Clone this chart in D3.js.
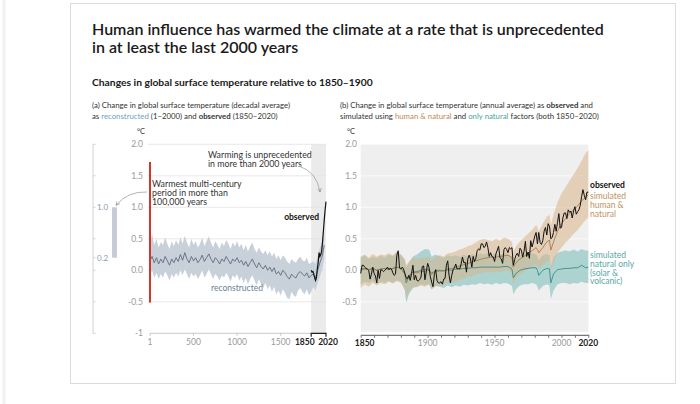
<!DOCTYPE html>
<html>
<head>
<meta charset="utf-8">
<script src="https://cdn.jsdelivr.net/npm/d3@7"></script>
<style>
body { margin: 0; background: #fff; }
svg { font-family: Lato, "Open Sans", sans-serif; }
</style>
</head>
<body>
<svg id="chart" width="700" height="404"></svg>
<script>
// ---- data -------------------------------------------------------------

var yTicks = [2.0, 1.5, 1.0, 0.5, 0.0, -0.5, -1];
var yTicksB = [2.0, 1.5, 1.0, 0.5, 0.0, -0.5];
var xTicksA = [1, 500, 1000, 1500];
var xTicksB = [1900, 1950, 2000];

// (a) reconstructed, every 25 years from year 1 to 2000
var reconYears = d3.range(0, 2001, 25).map(y => Math.max(1, y));
var reconMean = [
    0.15, 0.22, 0.12, 0.20, 0.10, 0.18, 0.12, 0.22, 0.15, 0.08,
    0.18, 0.12, 0.20, 0.14, 0.25, 0.16, 0.28, 0.18, 0.12, 0.22,
    0.15, 0.20, 0.12, 0.17, 0.24, 0.14, 0.20, 0.26, 0.18, 0.12,
    0.20, 0.16, 0.10, 0.18, 0.14, 0.22, 0.16, 0.10, 0.18, 0.14,
    0.20, 0.12, 0.16, 0.08, 0.14, 0.06, 0.12, 0.18, 0.10, 0.04,
    0.12, 0.06, 0.02, 0.08, 0.00, 0.05, -0.02, 0.04, -0.06, -0.02,
    -0.08, 0.00, -0.04, -0.10, -0.14, -0.06, -0.10, -0.12, -0.05, -0.02,
    -0.06, -0.09, -0.04, -0.12, -0.08, -0.06, -0.12, 0.00, 0.12, 0.22,
    0.40
];
var reconHigh = [
    0.42, 0.58, 0.40, 0.50, 0.36, 0.45, 0.40, 0.52, 0.42, 0.34,
    0.46, 0.38, 0.48, 0.40, 0.52, 0.42, 0.55, 0.44, 0.36, 0.50,
    0.40, 0.46, 0.36, 0.42, 0.52, 0.38, 0.46, 0.54, 0.44, 0.36,
    0.46, 0.40, 0.34, 0.44, 0.38, 0.48, 0.42, 0.34, 0.44, 0.38,
    0.46, 0.36, 0.42, 0.32, 0.40, 0.30, 0.38, 0.44, 0.34, 0.28,
    0.36, 0.30, 0.26, 0.32, 0.24, 0.30, 0.22, 0.28, 0.18, 0.24,
    0.16, 0.24, 0.20, 0.14, 0.10, 0.18, 0.14, 0.12, 0.18, 0.22,
    0.16, 0.14, 0.20, 0.10, 0.12, 0.14, 0.10, 0.22, 0.36, 0.44,
    0.62
];
var reconLow = [
    -0.08, 0.00, -0.12, -0.04, -0.14, -0.06, -0.12, -0.02, -0.08, -0.16,
    -0.06, -0.12, -0.04, -0.10, 0.00, -0.08, 0.02, -0.06, -0.14, -0.04,
    -0.10, -0.06, -0.14, -0.08, 0.00, -0.12, -0.06, 0.02, -0.06, -0.14,
    -0.06, -0.10, -0.16, -0.08, -0.12, -0.04, -0.10, -0.18, -0.08, -0.12,
    -0.06, -0.16, -0.10, -0.20, -0.12, -0.22, -0.14, -0.08, -0.16, -0.24,
    -0.14, -0.22, -0.28, -0.20, -0.30, -0.24, -0.34, -0.26, -0.38, -0.32,
    -0.40, -0.30, -0.36, -0.44, -0.46, -0.34, -0.40, -0.42, -0.32, -0.28,
    -0.34, -0.38, -0.30, -0.40, -0.34, -0.26, -0.32, -0.20, -0.10, 0.00,
    0.18
];

// (a) observed, decadal
var obsDecYears = [1850, 1860, 1870, 1880, 1890, 1900, 1910, 1920, 1930, 1940,
    1950, 1960, 1970, 1980, 1990, 2000, 2010, 2020];
var obsDecadal = [0.00, -0.03, -0.02, -0.06, -0.12, -0.16, -0.12, 0.02, 0.12, 0.28,
    0.22, 0.25, 0.30, 0.45, 0.62, 0.80, 0.96, 1.09];

// warmest multi-century period (inset bar) and the red range line
var warmestRange = [0.2, 1.0];
var redRange = [-0.51, 1.72];

// (b) observed, annual 1850-2020
var obsYears = d3.range(1850, 2021);
var obsAnnual = [
    -0.05, 0.08, 0.08, 0.05, 0.03, 0.02, 0.00, -0.14, -0.06, 0.05,
    -0.05, -0.09, -0.20, 0.00, -0.13, 0.01, 0.00, -0.02, 0.00, 0.02,
    0.05, 0.01, 0.03, 0.02, -0.04, -0.08, -0.06, 0.24, 0.31, 0.04,
    0.02, 0.05, 0.02, -0.05, -0.12, -0.13, -0.08, -0.16, -0.05, 0.08,
    -0.15, -0.08, -0.16, -0.17, -0.15, -0.11, 0.06, 0.07, -0.15, -0.02,
    0.11, 0.05, -0.10, -0.19, -0.26, -0.07, 0.01, -0.16, -0.20, -0.20,
    -0.18, -0.22, -0.14, -0.13, 0.08, 0.15, -0.08, -0.20, -0.08, 0.01,
    0.04, 0.10, 0.02, 0.03, 0.02, 0.10, 0.21, 0.12, 0.13, -0.03,
    0.18, 0.24, 0.18, 0.05, 0.22, 0.14, 0.19, 0.31, 0.34, 0.32,
    0.42, 0.42, 0.36, 0.38, 0.45, 0.36, 0.22, 0.28, 0.22, 0.21,
    0.14, 0.26, 0.32, 0.38, 0.20, 0.18, 0.11, 0.33, 0.36, 0.33,
    0.28, 0.36, 0.34, 0.36, 0.08, 0.17, 0.24, 0.27, 0.22, 0.35,
    0.32, 0.21, 0.30, 0.46, 0.22, 0.29, 0.19, 0.47, 0.37, 0.45,
    0.54, 0.60, 0.42, 0.60, 0.44, 0.41, 0.47, 0.62, 0.68, 0.56,
    0.74, 0.70, 0.50, 0.52, 0.60, 0.73, 0.62, 0.76, 0.90, 0.67,
    0.68, 0.83, 0.91, 0.91, 0.82, 0.96, 0.92, 0.94, 0.83, 0.94,
    1.01, 0.89, 0.93, 0.96, 1.03, 1.17, 1.28, 1.19, 1.12, 1.24,
    1.24
];

// (b) simulated runs
var simYears = [1850, 1853, 1856, 1859, 1862, 1865, 1868, 1871, 1874, 1877,
    1880, 1883, 1884, 1886, 1889, 1892, 1895, 1898, 1901, 1902,
    1903, 1906, 1909, 1912, 1915, 1918, 1921, 1924, 1927, 1930,
    1933, 1936, 1939, 1942, 1945, 1948, 1951, 1954, 1957, 1960,
    1963, 1964, 1966, 1969, 1972, 1975, 1978, 1981, 1982, 1983,
    1986, 1989, 1991, 1992, 1994, 1997, 2000, 2003, 2006, 2009,
    2012, 2015, 2018, 2020];
var hnMean = [0.00, 0.02, 0.01, 0.03, 0.00, 0.02, 0.03, 0.02, 0.03, 0.05,
    0.03, -0.05, -0.15, -0.08, -0.03, -0.04, -0.02, -0.02, 0.00, -0.03,
    -0.06, -0.02, -0.01, -0.01, 0.02, 0.03, 0.05, 0.07, 0.09, 0.11,
    0.13, 0.15, 0.17, 0.19, 0.20, 0.21, 0.21, 0.22, 0.23, 0.24,
    0.20, 0.05, 0.12, 0.18, 0.22, 0.27, 0.31, 0.36, 0.33, 0.28,
    0.36, 0.45, 0.48, 0.32, 0.45, 0.62, 0.74, 0.82, 0.90, 0.96,
    1.02, 1.10, 1.16, 1.20];
var hnLow = [-0.28, -0.22, -0.26, -0.20, -0.24, -0.20, -0.22, -0.18, -0.21, -0.17,
    -0.20, -0.30, -0.45, -0.33, -0.26, -0.27, -0.24, -0.26, -0.22, -0.26,
    -0.30, -0.25, -0.24, -0.23, -0.20, -0.20, -0.18, -0.15, -0.14, -0.10,
    -0.10, -0.06, -0.05, -0.04, -0.02, -0.04, -0.02, -0.03, -0.01, 0.00,
    -0.05, -0.22, -0.12, -0.06, -0.02, 0.02, 0.06, 0.10, 0.06, 0.02,
    0.08, 0.14, 0.16, 0.00, 0.12, 0.28, 0.36, 0.44, 0.50, 0.58,
    0.64, 0.72, 0.80, 0.84];
var hnHigh = [0.22, 0.25, 0.20, 0.26, 0.22, 0.25, 0.24, 0.27, 0.24, 0.30,
    0.26, 0.18, 0.08, 0.14, 0.20, 0.18, 0.20, 0.19, 0.22, 0.18,
    0.15, 0.22, 0.24, 0.22, 0.27, 0.28, 0.30, 0.33, 0.35, 0.38,
    0.40, 0.44, 0.48, 0.50, 0.48, 0.46, 0.50, 0.47, 0.52, 0.50,
    0.45, 0.30, 0.38, 0.46, 0.52, 0.58, 0.64, 0.72, 0.68, 0.62,
    0.74, 0.85, 0.88, 0.72, 0.88, 1.08, 1.22, 1.32, 1.42, 1.52,
    1.62, 1.74, 1.86, 1.90];
var natMean = [0.02, 0.03, 0.01, 0.03, 0.00, 0.02, 0.03, 0.02, 0.03, 0.05,
    0.03, -0.06, -0.20, -0.10, -0.03, -0.02, 0.00, 0.01, 0.02, -0.02,
    -0.05, 0.00, 0.00, -0.01, 0.01, 0.00, 0.02, 0.02, 0.03, 0.03,
    0.04, 0.04, 0.05, 0.05, 0.05, 0.05, 0.05, 0.05, 0.06, 0.06,
    0.02, -0.12, -0.05, 0.00, 0.02, 0.03, 0.04, 0.04, 0.00, -0.08,
    0.00, 0.03, 0.02, -0.20, -0.06, 0.01, 0.02, 0.03, 0.03, 0.04,
    0.04, 0.08, 0.04, 0.05];
var natLow = [-0.22, -0.18, -0.20, -0.17, -0.22, -0.18, -0.20, -0.17, -0.20, -0.16,
    -0.18, -0.32, -0.52, -0.38, -0.28, -0.26, -0.22, -0.24, -0.22, -0.26,
    -0.30, -0.25, -0.26, -0.28, -0.24, -0.27, -0.24, -0.26, -0.23, -0.24,
    -0.22, -0.23, -0.20, -0.22, -0.21, -0.23, -0.20, -0.22, -0.20, -0.21,
    -0.25, -0.38, -0.30, -0.24, -0.22, -0.22, -0.20, -0.22, -0.26, -0.32,
    -0.25, -0.22, -0.24, -0.46, -0.32, -0.22, -0.20, -0.20, -0.22, -0.20,
    -0.21, -0.18, -0.20, -0.20];
var natHigh = [0.20, 0.24, 0.18, 0.22, 0.19, 0.23, 0.20, 0.25, 0.22, 0.28,
    0.24, 0.16, 0.05, 0.12, 0.22, 0.25, 0.30, 0.34, 0.33, 0.28,
    0.22, 0.25, 0.22, 0.20, 0.24, 0.22, 0.24, 0.21, 0.25, 0.22,
    0.26, 0.24, 0.27, 0.25, 0.28, 0.25, 0.27, 0.24, 0.28, 0.26,
    0.22, 0.10, 0.18, 0.24, 0.26, 0.25, 0.27, 0.26, 0.22, 0.16,
    0.24, 0.26, 0.24, 0.05, 0.20, 0.28, 0.30, 0.32, 0.30, 0.33,
    0.30, 0.34, 0.31, 0.32];

// ---- layout -----------------------------------------------------------

var ctx = {
    top: 144.3,
    bottom: 333.3,
    aLeft: 150, aRight: 326,
    bLeft: 360.7, bRight: 588.3,
    insetX: 93,
    grey: "#9a9a9a",
    text: "#333"
};

var svgEl = d3.select("#chart");

var yA = d3.scaleLinear().domain([-1, 2]).range([ctx.bottom, ctx.top]);
var xA = d3.scaleLinear().domain([1, 2020]).range([ctx.aLeft, ctx.aRight]);
var xB = d3.scaleLinear().domain([1850, 2020]).range([ctx.bLeft, ctx.bRight]);
var yB = yA;

// frame
svgEl.append("rect")
    .attr("x", 70.5).attr("y", 3.5)
    .attr("width", 605).attr("height", 380)
    .attr("fill", "none")
    .attr("stroke", "#dcdcdc");
svgEl.append("line")
    .attr("x1", 4).attr("x2", 4).attr("y1", 0).attr("y2", 404)
    .attr("stroke", "#f1f1f1").attr("stroke-width", 3);

// titles
var title = svgEl.append("text")
    .attr("x", 92).attr("y", 35)
    .attr("font-size", "16px")
    .attr("font-weight", 600)
    .attr("fill", "#1a1a1a");
title.append("tspan").attr("x", 92).text("Human influence has warmed the climate at a rate that is unprecedented");
title.append("tspan").attr("x", 92).attr("dy", 17.5).text("in at least the last 2000 years");

svgEl.append("text")
    .attr("x", 92).attr("y", 86)
    .attr("font-size", "10.3px")
    .attr("font-weight", 700)
    .attr("fill", "#1a1a1a")
    .text("Changes in global surface temperature relative to 1850\u20131900");

// captions, with coloured words
var caption = function(x, y, parts) {
    var t = svgEl.append("text")
        .attr("x", x).attr("y", y)
        .attr("font-size", "7.8px")
        .attr("fill", ctx.text);
    parts.forEach(function(p) {
        t.append("tspan")
            .attr("fill", p.c || ctx.text)
            .attr("font-weight", p.b ? 700 : 400)
            .text(p.t);
    });
};
caption(92, 108, [{ t: "(a) Change in global surface temperature (decadal average)" }]);
caption(92, 118.5, [{ t: "as " }, { t: "reconstructed", c: "#6f9dc4" }, { t: " (1\u20132000) and " },
    { t: "observed", b: true }, { t: " (1850\u20132020)" }]);
caption(340, 108, [{ t: "(b) Change in global surface temperature (annual average) as " },
    { t: "observed", b: true }, { t: " and" }]);
caption(340, 118.5, [{ t: "simulated using " }, { t: "human & natural", c: "#c28a55" }, { t: " and " },
    { t: "only natural", c: "#4aa3a0" }, { t: " factors (both 1850\u20132020)" }]);

svgEl.append("text").attr("x", 137).attr("y", 134).attr("font-size", "7.5px").attr("fill", ctx.text).text("\u00b0C");
svgEl.append("text").attr("x", 347).attr("y", 134).attr("font-size", "7.5px").attr("fill", ctx.text).text("\u00b0C");

// ---- panel (a) --------------------------------------------------------

// grey column for the observed period
svgEl.append("rect")
    .attr("x", xA(1850)).attr("y", ctx.top)
    .attr("width", xA(2020) - xA(1850)).attr("height", ctx.bottom - ctx.top)
    .attr("fill", "#ebebeb");

var gA = svgEl.append("g");
yTicks.filter(d => d > -1).forEach(function(v) {
    gA.append("line")
        .attr("x1", ctx.aLeft - 2).attr("x2", ctx.aRight)
        .attr("y1", yA(v)).attr("y2", yA(v))
        .attr("stroke", "#e2e2e2").attr("stroke-width", 0.8);
});
yTicks.forEach(function(v) {
    gA.append("text")
        .attr("x", 143).attr("y", yA(v) + 3)
        .attr("text-anchor", "end")
        .attr("font-size", "8.5px")
        .attr("fill", ctx.grey)
        .text(v === -1 ? "-1" : d3.format(".1f")(v).replace("\u2212", "-"));
});

var recon = reconYears.map((y, i) => ({ x: y, m: reconMean[i], lo: reconLow[i], hi: reconHigh[i] }));
gA.append("path")
    .datum(recon)
    .attr("fill", "#c8d0da")
    .attr("d", d3.area().x(d => xA(d.x)).y0(d => yA(d.lo)).y1(d => yA(d.hi)));
gA.append("path")
    .datum(recon)
    .attr("fill", "none")
    .attr("stroke", "#5f6c7e")
    .attr("stroke-width", 0.9)
    .attr("d", d3.line().x(d => xA(d.x)).y(d => yA(d.m)));

gA.append("path")
    .datum(obsDecYears.map((y, i) => [y, obsDecadal[i]]))
    .attr("fill", "none")
    .attr("stroke", "#111")
    .attr("stroke-width", 1.2)
    .attr("d", d3.line().x(d => xA(d[0])).y(d => yA(d[1])));

// red line at year 1
gA.append("line")
    .attr("x1", xA(1)).attr("x2", xA(1))
    .attr("y1", yA(redRange[1])).attr("y2", yA(redRange[0]))
    .attr("stroke", "#d8342b").attr("stroke-width", 2);

// x axis
gA.append("line")
    .attr("x1", ctx.aLeft).attr("x2", ctx.aRight)
    .attr("y1", ctx.bottom).attr("y2", ctx.bottom)
    .attr("stroke", "#bbb").attr("stroke-width", 0.8);
xTicksA.forEach(function(v) {
    gA.append("line")
        .attr("x1", xA(v)).attr("x2", xA(v))
        .attr("y1", ctx.bottom).attr("y2", ctx.bottom + 2.5)
        .attr("stroke", "#bbb").attr("stroke-width", 0.8);
    gA.append("text")
        .attr("x", xA(v)).attr("y", ctx.bottom + 12)
        .attr("text-anchor", "middle")
        .attr("font-size", "8.5px")
        .attr("fill", ctx.grey)
        .text(v);
});
gA.append("path")
    .attr("d", "M" + xA(1850) + "," + (ctx.bottom + 3.5) + "V" + ctx.bottom + "H" + xA(2020) + "V" + (ctx.bottom + 3.5))
    .attr("fill", "none").attr("stroke", "#222").attr("stroke-width", 1.2);
gA.append("text")
    .attr("x", xA(1850) + 3.5).attr("y", ctx.bottom + 12)
    .attr("text-anchor", "end").attr("font-size", "8.5px").attr("font-weight", 700)
    .attr("fill", "#222").text("1850");
gA.append("text")
    .attr("x", xA(2020) + 2).attr("y", ctx.bottom + 12)
    .attr("text-anchor", "middle").attr("font-size", "8.5px").attr("font-weight", 700)
    .attr("fill", "#222").text("2020");

// inset axis for the warmest multi-century period
gA.append("line")
    .attr("x1", ctx.insetX).attr("x2", ctx.insetX)
    .attr("y1", yA(2)).attr("y2", yA(-1))
    .attr("stroke", "#c8c8c8").attr("stroke-width", 0.8);
yTicks.concat([0.2]).forEach(function(v) {
    gA.append("line")
        .attr("x1", ctx.insetX).attr("x2", ctx.insetX + 2.5)
        .attr("y1", yA(v)).attr("y2", yA(v))
        .attr("stroke", "#c8c8c8").attr("stroke-width", 0.8);
});
[1.0, 0.2].forEach(function(v) {
    gA.append("text")
        .attr("x", ctx.insetX + 4).attr("y", yA(v) + 3)
        .attr("font-size", "8px").attr("fill", "#8a9bb0")
        .text(d3.format(".1f")(v));
});
gA.append("rect")
    .attr("x", 112).attr("width", 5)
    .attr("y", yA(warmestRange[1])).attr("height", yA(warmestRange[0]) - yA(warmestRange[1]))
    .attr("fill", "#c5ccd6");

// annotations
svgEl.append("defs").append("marker")
    .attr("id", "arr").attr("viewBox", "0 0 6 6")
    .attr("refX", 5).attr("refY", 3)
    .attr("markerWidth", 5).attr("markerHeight", 5)
    .attr("orient", "auto")
    .append("path").attr("d", "M0,0.5L5,3L0,5.5").attr("fill", "none").attr("stroke", "#999").attr("stroke-width", 1);

var note = function(x, y, lines, opts) {
    var t = svgEl.append("text")
        .attr("x", x).attr("y", y)
        .attr("font-size", opts.size || "8.8px")
        .attr("font-weight", opts.b ? 700 : 400)
        .attr("text-anchor", opts.anchor || "start")
        .attr("fill", opts.c || ctx.text);
    lines.forEach(function(l, i) {
        t.append("tspan").attr("x", x).attr("dy", i === 0 ? 0 : (opts.lh || 9)).text(l);
    });
};
note(152, 186.5, ["Warmest multi-century", "period in more than", "100,000 years"], { lh: 9.2 });
note(208, 158, ["Warming is unprecedented", "in more than 2000 years"], { lh: 9.2 });
note(319, 220, ["observed"], { b: true, anchor: "end", size: "8.5px", c: "#111" });
note(237, 291, ["reconstructed"], { anchor: "middle", size: "8.5px", c: "#6b7d93" });

svgEl.append("path")
    .attr("d", "M147,192 Q128,191 116," + (yA(warmestRange[1]) - 2))
    .attr("fill", "none").attr("stroke", "#aaa").attr("stroke-width", 0.9)
    .attr("marker-end", "url(#arr)");
svgEl.append("path")
    .attr("d", "M299,166 Q317,172 320,192")
    .attr("fill", "none").attr("stroke", "#aaa").attr("stroke-width", 0.9)
    .attr("marker-end", "url(#arr)");

// ---- panel (b) --------------------------------------------------------

var gB = svgEl.append("g");
gB.append("rect")
    .attr("x", ctx.bLeft).attr("y", ctx.top)
    .attr("width", ctx.bRight - ctx.bLeft).attr("height", ctx.bottom - 1.5 - ctx.top)
    .attr("fill", "#efefef");
yTicksB.forEach(function(v) {
    gB.append("line")
        .attr("x1", ctx.bLeft).attr("x2", ctx.bRight)
        .attr("y1", yB(v)).attr("y2", yB(v))
        .attr("stroke", "#fafafa").attr("stroke-width", 0.9);
    gB.append("text")
        .attr("x", 357).attr("y", yB(v) + 3)
        .attr("text-anchor", "end")
        .attr("font-size", "8.5px")
        .attr("fill", ctx.grey)
        .text(d3.format(".1f")(v).replace("\u2212", "-"));
});

var sim = simYears.map((y, i) => ({
    x: y, hm: hnMean[i], hl: hnLow[i], hh: hnHigh[i],
    nm: natMean[i], nl: natLow[i], nh: natHigh[i]
}));
gB.append("path")
    .datum(sim)
    .attr("fill", "#7fbfba").attr("fill-opacity", 0.6)
    .attr("d", d3.area().x(d => xB(d.x)).y0(d => yB(d.nl)).y1(d => yB(d.nh)));
gB.append("path")
    .datum(sim)
    .attr("fill", "#d9b48a").attr("fill-opacity", 0.55)
    .attr("d", d3.area().x(d => xB(d.x)).y0(d => yB(d.hl)).y1(d => yB(d.hh)));
gB.append("path")
    .datum(sim)
    .attr("fill", "none").attr("stroke", "#3d8a86").attr("stroke-width", 0.9)
    .attr("d", d3.line().x(d => xB(d.x)).y(d => yB(d.nm)));
gB.append("path")
    .datum(sim)
    .attr("fill", "none").attr("stroke", "#a87a4e").attr("stroke-width", 0.9)
    .attr("d", d3.line().x(d => xB(d.x)).y(d => yB(d.hm)));
gB.append("path")
    .datum(obsYears.map((y, i) => [y, obsAnnual[i]]))
    .attr("fill", "none").attr("stroke", "#111").attr("stroke-width", 1)
    .attr("d", d3.line().x(d => xB(d[0])).y(d => yB(d[1])));

// x axis with decade ticks
var axB = gB.append("g")
    .attr("transform", "translate(0," + (ctx.bottom + 1.5) + ")")
    .call(d3.axisBottom(xB).tickValues(d3.range(1850, 2021, 10)).tickSize(3).tickSizeOuter(0).tickFormat(""));
axB.select(".domain").attr("stroke", "#555").attr("stroke-width", 1);
axB.selectAll(".tick line").attr("stroke", "#777");
gB.selectAll("text.xl")
    .data([1850].concat(xTicksB, [2020]))
    .enter().append("text")
    .attr("class", "xl")
    .attr("x", d => d === 1850 ? xB(d) + 4 : xB(d))
    .attr("y", ctx.bottom + 13)
    .attr("text-anchor", "middle")
    .attr("font-size", "8.5px")
    .attr("font-weight", d => (d === 1850 || d === 2020) ? 700 : 400)
    .attr("fill", d => (d === 1850 || d === 2020) ? "#222" : ctx.grey)
    .text(d => d);

// series labels
note(590, 188, ["observed"], { b: true, size: "8.5px", c: "#111" });
note(590, 199, ["simulated", "human &", "natural"], { size: "8.5px", c: "#c0935f", lh: 8.8 });
note(590, 258, ["simulated", "natural only", "(solar &", "volcanic)"], { size: "8.5px", c: "#58a8a6", lh: 8.8 });
</script>
</body>
</html>
